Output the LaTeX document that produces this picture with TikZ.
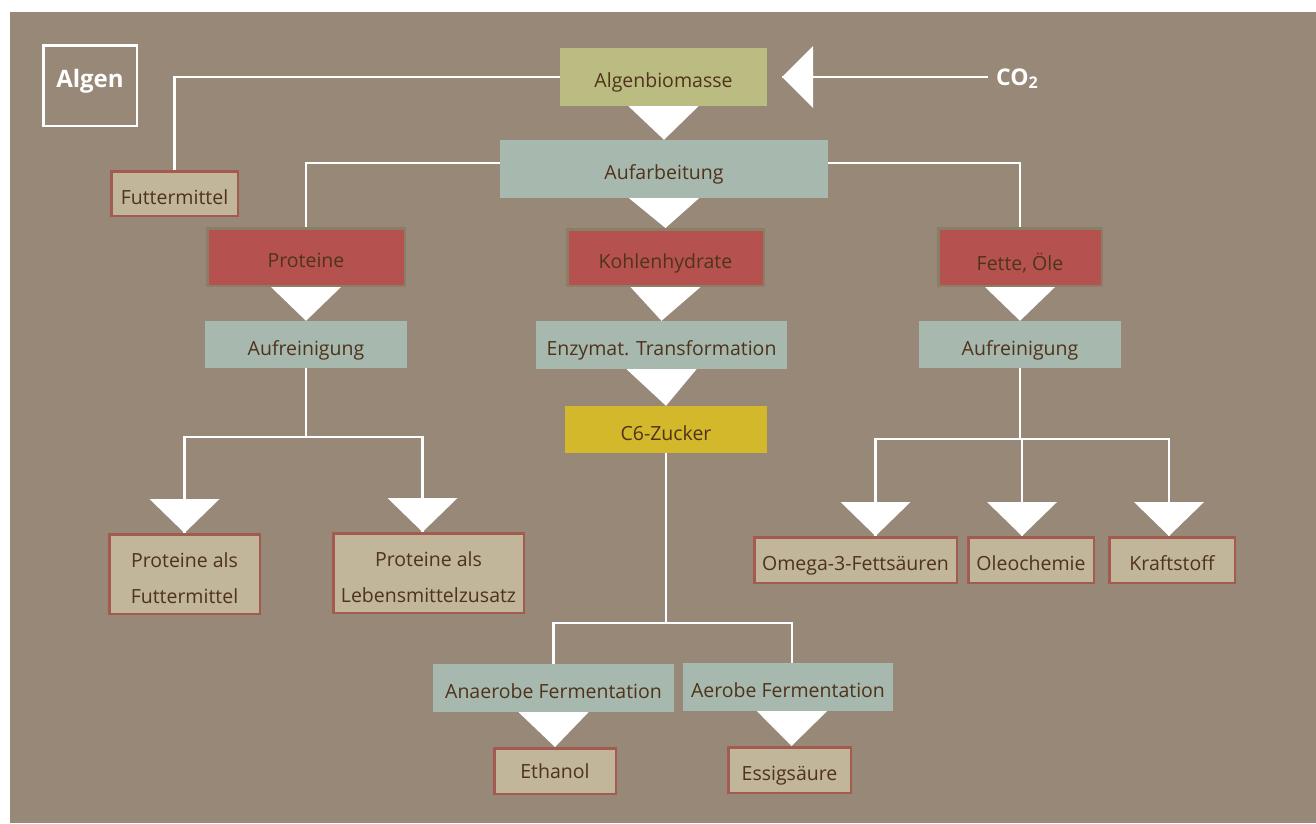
\documentclass[tikz,border=0pt]{standalone}
\usepackage{fontspec}
\setmainfont{Open Sans}
\usetikzlibrary{calc}
\definecolor{bgc}{HTML}{978878}
\definecolor{greenc}{HTML}{BBBC82}
\definecolor{tealc}{HTML}{A7B8AE}
\definecolor{redc}{HTML}{B5524F}
\definecolor{redbord}{HTML}{8A7F66}
\definecolor{tanc}{HTML}{C1B59A}
\definecolor{tanbord}{HTML}{A35B51}
\definecolor{yellowc}{HTML}{D4B82B}
\definecolor{txtc}{HTML}{4F331B}
\tikzset{
  basebox/.style={inner sep=0pt, anchor=center, font=\fontsize{19.5}{23}\selectfont, text=txtc, text height=21.9pt, text depth=0pt},
  gbox/.style={basebox, fill=greenc},
  abox/.style={basebox, fill=tealc},
  ybox/.style={basebox, fill=yellowc},
  rbox/.style={basebox, fill=redc, draw=redbord, line width=2.5pt},
  tbox/.style={basebox, fill=tanc, draw=tanbord, line width=2.5pt},
  twolines/.style={align=center, font=\fontsize{19.5}{36}\selectfont, text height=58pt, text depth=0pt},
  wline/.style={draw=white, line width=2.5pt},
  algenbox/.style={draw=white, line width=2.5pt, inner sep=0pt, font=\fontsize{24}{28}\selectfont\bfseries, text=white, text height=16.4pt, text depth=12pt},
  co2style/.style={inner sep=0pt, anchor=west, font=\fontsize{23}{27}\selectfont\bfseries, text=white, text height=16.4pt, text depth=0pt}
}
\newcommand{\trif}[2]{\fill[white] ($(#1)+(-35,0)$) -- ($(#1)+(35,0)$) -- (#2) -- cycle;}
\newcommand{\trib}[1]{\fill[white] (#1) -- ++(-35,-34) -- ++(70,0) -- cycle;}
\begin{document}
\begin{tikzpicture}[x=1pt,y=-1pt]
\useasboundingbox (0,0) rectangle (1316,823);
\fill[white] (0,0) rectangle (1316,823);
\fill[bgc] (10,12) rectangle (1316,823);

% nodes
\node[algenbox, minimum width=93.5pt, minimum height=80.5pt] (algen) at (90,85.5) {Algen};
\node[gbox, minimum width=207pt, minimum height=58pt] (algb) at (663.5,77) {Algenbiomasse};
\node[co2style] (co2) at (996,77) {CO\textsubscript{2}};
\coordinate (cotip) at ($(algb.east)+(15,0)$);
\node[tbox, minimum width=126.5pt, minimum height=44.5pt] (futt) at (174.5,193.5) {Futtermittel};
\node[abox, minimum width=328pt, minimum height=58pt] (aufa) at (664,169) {Aufarbeitung};
\node[rbox, minimum width=197.5pt, minimum height=57.5pt] (prot) at (306,257) {Proteine};
\node[rbox, minimum width=196.5pt, minimum height=56.5pt] (kohl) at (665.5,257.5) {Kohlenhydrate};
\node[rbox, minimum width=163.5pt, minimum height=57.5pt, text height=26.9pt] (fette) at (1020,257) {Fette, Öle};
\node[abox, minimum width=202pt, minimum height=47pt] (aufrL) at (306,344.5) {Aufreinigung};
\node[abox, minimum width=251pt, minimum height=48pt] (enz) at (661.5,345) {Enzymat. Transformation};
\node[abox, minimum width=202pt, minimum height=47pt] (aufrR) at (1020,344.5) {Aufreinigung};
\node[ybox, minimum width=202pt, minimum height=47pt] (c6) at (666,429.5) {C6-Zucker};
\node[tbox, twolines, minimum width=150.5pt, minimum height=79.5pt] (pf) at (184.5,574) {Proteine als\\Futtermittel};
\node[tbox, twolines, minimum width=190.5pt, minimum height=79.5pt] (pl) at (428.5,573) {Proteine als\\Lebensmittelzusatz};
\node[tbox, minimum width=202.5pt, minimum height=45.5pt] (omega) at (855.5,560) {Omega-3-Fettsäuren};
\node[tbox, minimum width=125.5pt, minimum height=45.5pt] (oleo) at (1031,560) {Oleochemie};
\node[tbox, minimum width=125.5pt, minimum height=45.5pt] (kraft) at (1172,560) {Kraftstoff};
\node[abox, minimum width=241pt, minimum height=48pt] (anaer) at (553.5,688) {Anaerobe Fermentation};
\node[abox, minimum width=210pt, minimum height=48pt] (aer) at (788,687) {Aerobe Fermentation};
\node[tbox, minimum width=121.5pt, minimum height=45.5pt, text height=15.9pt] (eth) at (555,771) {Ethanol};
\node[tbox, minimum width=122.5pt, minimum height=45.5pt] (essig) at (789.5,770) {Essigsäure};

% connectors
\draw[wline] (algb.west) -| (futt.north);
\draw[wline] ([xshift=-8pt]co2.west) -- (cotip |- co2.west);
\fill[white] (cotip) -- ++(31,-31) -- ++(0,62) -- cycle;
\trif{algb.south}{aufa.north}
\draw[wline] ([yshift=6pt]aufa.west) -| (prot.north);
\draw[wline] ([yshift=6pt]aufa.east) -| (fette.north);
\trif{aufa.south}{kohl.north}
\trif{prot.south}{aufrL.north}
\trif{kohl.south}{enz.north}
\trif{enz.south}{c6.north}
\trif{fette.south}{aufrR.north}

% left branch
\coordinate (jL) at ($(aufrL.south)+(0,69)$);
\draw[wline] (aufrL.south) -- (jL);
\draw[wline] (pf.north) |- (jL) -| ([xshift=-6pt]pl.north);
\trib{pf.north}
\trib{[xshift=-6pt]pl.north}

% centre branch
\coordinate (jC) at ($(c6.south)+(0,170)$);
\draw[wline] (c6.south) -- (jC);
\draw[wline] (anaer.north) |- (jC) -| ([xshift=4pt]aer.north);
\trif{anaer.south}{eth.north}
\trif{[xshift=4pt]aer.south}{[xshift=2pt]essig.north}

% right branch
\coordinate (jR) at ($(aufrR.south)+(0,71)$);
\draw[wline] (aufrR.south) -- (jR);
\draw[wline] ([xshift=20pt]omega.north) |- (jR) -| ([xshift=-3pt]kraft.north);
\draw[wline] (jR) -| ([xshift=-9pt]oleo.north);
\trib{[xshift=20pt]omega.north}
\trib{[xshift=-9pt]oleo.north}
\trib{[xshift=-3pt]kraft.north}
\end{tikzpicture}
\end{document}
